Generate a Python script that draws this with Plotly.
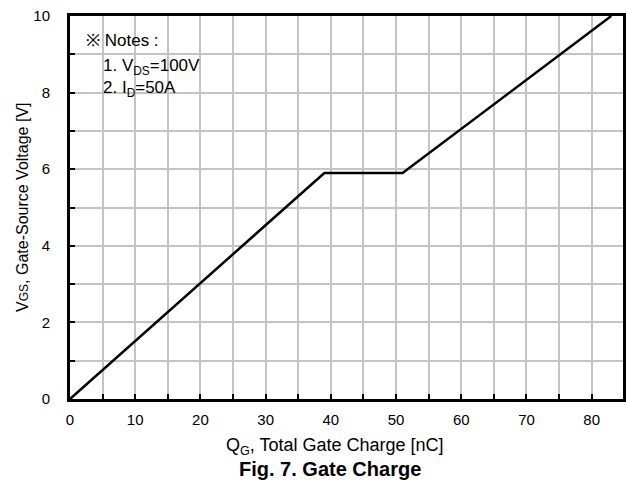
import plotly.graph_objects as go

# Data
qg_nc = [0, 39, 51, 83]
vgs_v = [0, 5.9, 5.9, 10]

x_ticks = [0, 10, 20, 30, 40, 50, 60, 70, 80]
y_ticks = [0, 2, 4, 6, 8, 10]

FONT = "Liberation Sans, Arial, sans-serif"
GRID = "#c4c4c4"

fig = go.Figure()
fig.add_trace(go.Scatter(x=qg_nc, y=vgs_v, mode="lines",
                         line=dict(color="black", width=2.5),
                         showlegend=False, hoverinfo="skip"))

fig.update_layout(
    width=626, height=492,
    margin=dict(l=70, r=0, t=16, b=93),
    paper_bgcolor="white", plot_bgcolor="white",
    font=dict(family=FONT, size=15, color="black"),
)

fig.update_xaxes(
    range=[0, 84.8], tickvals=x_ticks, ticks="inside", ticklen=5,
    tickcolor="black", tickwidth=2,
    showgrid=True, gridcolor=GRID, gridwidth=2,
    minor=dict(dtick=5, tick0=0, showgrid=True, gridcolor=GRID, gridwidth=2,
               ticks="inside", ticklen=5, tickcolor="black", tickwidth=2),
    showline=True, linecolor="black", linewidth=3, mirror=True,
    zeroline=False, ticklabelstandoff=5,
    tickfont=dict(family=FONT, size=15),
)
fig.update_yaxes(
    range=[0, 10], tickvals=y_ticks, ticks="inside", ticklen=5,
    tickcolor="black", tickwidth=2,
    showgrid=True, gridcolor=GRID, gridwidth=2,
    minor=dict(dtick=1, tick0=0, showgrid=True, gridcolor=GRID, gridwidth=2,
               ticks="inside", ticklen=5, tickcolor="black", tickwidth=2),
    showline=True, linecolor="black", linewidth=3, mirror=True,
    zeroline=False, ticklabelstandoff=14,
    tickfont=dict(family=FONT, size=15),
)

annos = [
    dict(text="Q<sub>G</sub>, Total Gate Charge [nC]", x=0.48, y=-0.125,
         font=dict(size=18)),
    dict(text="<b>Fig. 7. Gate Charge</b>", x=0.47, y=-0.183,
         font=dict(size=20)),
    dict(text="V<span style='font-size:12px'>GS</span>, Gate-Source Voltage [V]",
         x=-0.086, y=0.5, textangle=-90, font=dict(size=16)),
]
for a in annos:
    fig.add_annotation(xref="paper", yref="paper", showarrow=False,
                       xanchor="center", yanchor="middle", **a)

notes = [
    ("※ Notes :", 2.2, 9.36),
    ("1. V<sub>DS</sub>=100V<br>2. I<sub>D</sub>=50A", 4.8, 8.38),
]
for t, x, y in notes:
    fig.add_annotation(x=x, y=y, xref="x", yref="y", text=t, showarrow=False,
                       xanchor="left", yanchor="middle", align="left",
                       font=dict(family=FONT, size=17))

fig.write_html("out.html")
